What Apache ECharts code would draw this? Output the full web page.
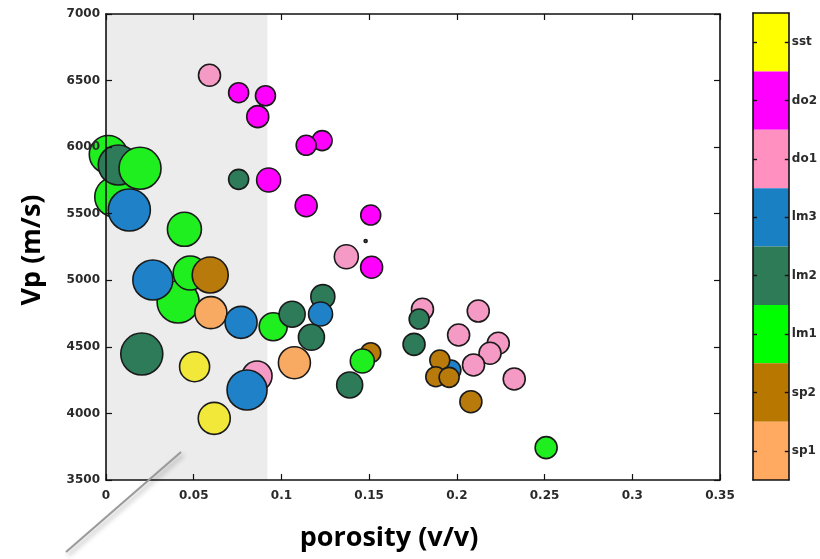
<!DOCTYPE html>
<html>
<head>
<meta charset="utf-8">
<script src="https://cdn.jsdelivr.net/npm/echarts@6/dist/echarts.min.js"></script>
<style>
  html, body { margin: 0; padding: 0; background: #ffffff; }
  #chart { width: 820px; height: 559px; }
</style>
</head>
<body>
<div id="chart"></div>
<script>
// Lithofacies legend, top to bottom on the colour bar
const facies = ['sst', 'do2', 'do1', 'lm3', 'lm2', 'lm1', 'sp2', 'sp1'];
const faciesColors = {
  sst: '#f2e83a', do2: '#ff00ff', do1: '#f59ac4', lm3: '#1f82c8',
  lm2: '#2e7b5a', lm1: '#1fee1f', sp2: '#b87a0a', sp1: '#f9aa62'
};
const barColors = {
  sst: '#ffff00', do2: '#ff00ff', do1: '#ff90c0', lm3: '#1a80c4',
  lm2: '#2e7b58', lm1: '#00ff00', sp2: '#b87800', sp1: '#ffaa60'
};

// Samples in drawing order (back to front)
const sampleFacies = [
  'lm1','lm1','lm2','lm1','lm3','lm1','lm1','lm3','lm1','sp2',
  'sp1','lm3','lm2','sst','do1','lm3','sst','do1','do2','do2',
  'do2','do2','do2','lm2','do2','do2','do2','do1','do2','lm1',
  'lm2','lm2','lm3','lm2','sp1','sp2','lm1','lm2','do1','lm2',
  'lm2','do1','do1','do1','do1','do1','do1','lm3','sp2','sp2',
  'sp2','sp2','lm1','lm2'
];
const porosity = [
  0.0013,0.0050,0.0070,0.0194,0.0133,0.0447,0.0411,0.0267,0.0480,0.0594,
  0.0598,0.0770,0.0204,0.0505,0.0861,0.0804,0.0617,0.0590,0.0756,0.0865,
  0.0909,0.1232,0.1141,0.0756,0.0927,0.1141,0.1509,0.1370,0.1514,0.0953,
  0.1061,0.1236,0.1223,0.1171,0.1074,0.1509,0.1461,0.1389,0.1804,0.1785,
  0.1756,0.2122,0.2010,0.2236,0.2189,0.2095,0.2327,0.1966,0.1903,0.1880,
  0.1956,0.2080,0.2509,0.1480
];
const vp = [
  5945,5626,5866,5841,5528,5383,4837,5002,5055,5040,
  4757,4684,4446,4351,4281,4176,3963,6540,6409,6229,
  6386,6049,6014,5758,5753,5560,5490,5177,5098,4651,
  4745,4877,4747,4572,4381,4456,4394,4214,4782,4709,
  4519,4769,4589,4527,4452,4364,4259,4326,4401,4276,
  4271,4088,3743,5295
];
// Relative sample weight, drawn as bubble radius
const weight = [
  19,20,20,21,21,17,21,20,17,18,
  16,16,21,15,15,20,16,11,10,11,
  10,10,10,10,12,11,10,12,11,14,
  13,12,12,13,16,10,12,13,11,10,
  11,11,11,11,11,11,11,10,10,10,
  10,11,11,1.5
];

// Clean-carbonate porosity cutoff (shaded band)
const cutoff = 0.092;

const xTicks = { min: 0, max: 0.35, interval: 0.05 };
const yTicks = { min: 3500, max: 7000, interval: 500 };

const points = porosity.map((p, i) => ({
  value: [p, vp[i], weight[i]],
  itemStyle: { color: faciesColors[sampleFacies[i]] }
}));

const tickFont = { fontFamily: 'DejaVu Sans', fontWeight: 'bold', fontSize: 12, color: '#2a2a2a' };
const frameLine = { show: true, onZero: false, lineStyle: { color: '#111', width: 1.6 } };
const inTick = { show: true, inside: true, length: 6, lineStyle: { color: '#111', width: 1.2 } };
const barTick = { show: true, inside: true, alignWithLabel: true, length: 4, lineStyle: { color: '#111', width: 1.4 } };
const noLabel = { show: false };
const noSplit = { show: false };

const xMain = { gridIndex: 0, type: 'value', min: xTicks.min, max: xTicks.max, interval: xTicks.interval, z: 5, axisLine: frameLine, axisTick: inTick, splitLine: noSplit };
const yMain = { gridIndex: 0, type: 'value', min: yTicks.min, max: yTicks.max, interval: yTicks.interval, z: 5, axisLine: frameLine, axisTick: inTick, splitLine: noSplit };
const xBar = { gridIndex: 1, type: 'value', min: 0, max: 1, z: 5, axisLine: frameLine, axisTick: { show: false }, axisLabel: noLabel, splitLine: noSplit };
const yBar = { gridIndex: 1, type: 'category', data: facies, inverse: true, z: 5, axisLine: frameLine, axisTick: barTick, splitLine: noSplit };

const chart = echarts.init(document.getElementById('chart'), null, { renderer: 'canvas' });
chart.setOption({
  backgroundColor: '#ffffff',
  animation: false,
  grid: [
    { left: 106, right: 100, top: 14, bottom: 79 },
    { left: 753, width: 37, top: 13, height: 467 }
  ],
  xAxis: [
    Object.assign({}, xMain, { position: 'bottom', axisLabel: Object.assign({ margin: 10 }, tickFont) }),
    Object.assign({}, xMain, { position: 'top', axisLabel: noLabel }),
    Object.assign({}, xBar, { position: 'bottom' }),
    Object.assign({}, xBar, { position: 'top' })
  ],
  yAxis: [
    Object.assign({}, yMain, { position: 'left', axisLabel: Object.assign({ margin: 6, formatter: v => String(v) }, tickFont) }),
    Object.assign({}, yMain, { position: 'right', axisLabel: noLabel }),
    Object.assign({}, yBar, { position: 'right', axisLabel: Object.assign({ margin: 3 }, tickFont) }),
    Object.assign({}, yBar, { position: 'left', axisLabel: noLabel })
  ],
  series: [
    {
      // shaded low-porosity band
      type: 'scatter', xAxisIndex: 0, yAxisIndex: 0, data: [], silent: true,
      markArea: {
        silent: true,
        itemStyle: { color: '#ececec' },
        data: [[{ xAxis: 0 }, { xAxis: cutoff }]]
      }
    },
    {
      type: 'scatter', xAxisIndex: 0, yAxisIndex: 0, clip: false,
      data: points,
      symbol: 'circle',
      symbolSize: v => v[2] * 2,
      itemStyle: { borderColor: '#1a1a1a', borderWidth: 1.6, opacity: 1 }
    },
    {
      // facies colour bar
      type: 'bar', xAxisIndex: 2, yAxisIndex: 2,
      barWidth: '100%', barCategoryGap: 0,
      data: facies.map(f => ({ value: 1, itemStyle: { color: barColors[f] } })),
      silent: true
    }
  ],
  graphic: [
    {
      type: 'text', z: 10,
      rotation: Math.PI / 2,
      x: 32, y: 250,
      style: { text: 'Vp (m/s)', fontFamily: 'Open Sans', fontWeight: 'bold', fontSize: 27, fill: '#000',
               textAlign: 'center', textVerticalAlign: 'middle' }
    },
    {
      type: 'text', z: 10,
      style: { text: 'porosity (v/v)', fontFamily: 'Open Sans', fontWeight: 'bold', fontSize: 27, fill: '#000',
               textAlign: 'center', textVerticalAlign: 'middle' },
      x: 389, y: 538
    },
    {
      type: 'line', silent: true, z: 10,
      shape: { x1: 66, y1: 552, x2: 181, y2: 452 },
      style: { stroke: '#9a9a9a', lineWidth: 2, shadowBlur: 5, shadowColor: 'rgba(0,0,0,0.35)', shadowOffsetX: 2, shadowOffsetY: 3 }
    }
  ]
});
</script>
</body>
</html>
